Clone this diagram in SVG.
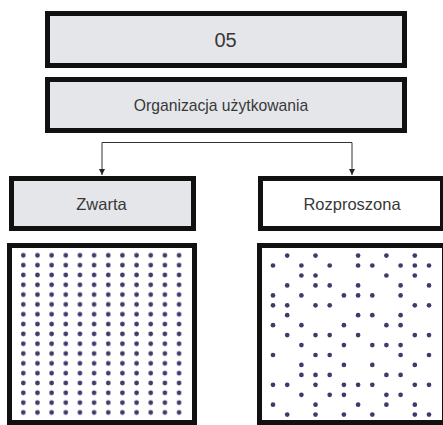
<svg xmlns="http://www.w3.org/2000/svg" width="443" height="425" viewBox="0 0 443 425">
<style>
.box{stroke:#111;stroke-width:5}
.gray{fill:#e5e6ea}
.white{fill:#fff}
.lbl{font-family:"Liberation Sans",Arial,sans-serif;fill:#383838;text-anchor:middle}
.dot{fill:#3e3a6c}
.conn{fill:none;stroke:#333;stroke-width:1}
</style>
<defs>
<marker id="arr" viewBox="0 0 6 6" refX="6" refY="3" markerWidth="6" markerHeight="6" markerUnits="userSpaceOnUse" orient="auto">
<path d="M0,0 L6,3 L0,6 z" fill="#222"/>
</marker>
<pattern id="grid" patternUnits="userSpaceOnUse" x="16.22" y="250.45" width="14.16" height="9.82">
<circle cx="7.08" cy="4.91" r="2.35" class="dot"/>
</pattern>
</defs>
<rect width="443" height="425" fill="#fff"/>
<g id="node-05">
<rect class="box gray" x="47.5" y="13.5" width="357" height="52"/>
<text class="lbl" x="225.5" y="46.5" font-size="20">05</text>
</g>
<g id="node-organizacja">
<rect class="box gray" x="47.5" y="79.5" width="357" height="51"/>
<text class="lbl" x="221" y="110.5" font-size="15.7">Organizacja użytkowania</text>
</g>
<g id="connectors">
<path class="conn" d="M227,142.5 H102 V175" marker-end="url(#arr)"/>
<path class="conn" d="M227,142.5 H352 V175" marker-end="url(#arr)"/>
</g>
<g id="node-zwarta">
<rect class="box gray" x="11.5" y="178.5" width="182" height="50"/>
<text class="lbl" x="101.5" y="210" font-size="16.5">Zwarta</text>
</g>
<g id="node-rozproszona">
<rect class="box white" x="260.5" y="178.5" width="182" height="50"/>
<text class="lbl" x="352" y="210" font-size="16.5">Rozproszona</text>
</g>
<g id="node-zwarta-pattern">
<rect class="box white" x="9.5" y="245.5" width="185" height="177"/>
<rect x="16.22" y="250.45" width="169.92" height="166.94" fill="url(#grid)"/>
</g>
<g id="node-rozproszona-pattern">
<rect class="box white" x="259.5" y="245.5" width="185" height="177"/>
<g class="dot">
<circle cx="287.2" cy="255.6" r="2.35"/><circle cx="315.5" cy="255.6" r="2.35"/><circle cx="358.1" cy="255.6" r="2.35"/><circle cx="386.4" cy="255.6" r="2.35"/><circle cx="414.8" cy="255.6" r="2.35"/>
<circle cx="273" cy="265.5" r="2.35"/><circle cx="301.4" cy="265.5" r="2.35"/><circle cx="329.7" cy="265.5" r="2.35"/><circle cx="358.1" cy="265.5" r="2.35"/><circle cx="372.3" cy="265.5" r="2.35"/><circle cx="400.6" cy="265.5" r="2.35"/><circle cx="414.8" cy="265.5" r="2.35"/><circle cx="429" cy="265.5" r="2.35"/>
<circle cx="301.4" cy="275.5" r="2.35"/><circle cx="315.5" cy="275.5" r="2.35"/><circle cx="386.4" cy="275.5" r="2.35"/><circle cx="414.8" cy="275.5" r="2.35"/>
<circle cx="287.2" cy="285.4" r="2.35"/><circle cx="315.5" cy="285.4" r="2.35"/><circle cx="329.7" cy="285.4" r="2.35"/><circle cx="358.1" cy="285.4" r="2.35"/><circle cx="400.6" cy="285.4" r="2.35"/><circle cx="429" cy="285.4" r="2.35"/>
<circle cx="273" cy="295.4" r="2.35"/><circle cx="301.4" cy="295.4" r="2.35"/><circle cx="343.9" cy="295.4" r="2.35"/><circle cx="358.1" cy="295.4" r="2.35"/><circle cx="372.3" cy="295.4" r="2.35"/><circle cx="400.6" cy="295.4" r="2.35"/>
<circle cx="273" cy="305.3" r="2.35"/><circle cx="287.2" cy="305.3" r="2.35"/><circle cx="315.5" cy="305.3" r="2.35"/><circle cx="329.7" cy="305.3" r="2.35"/><circle cx="414.8" cy="305.3" r="2.35"/><circle cx="429" cy="305.3" r="2.35"/>
<circle cx="287.2" cy="315.2" r="2.35"/><circle cx="358.1" cy="315.2" r="2.35"/><circle cx="372.3" cy="315.2" r="2.35"/><circle cx="400.6" cy="315.2" r="2.35"/>
<circle cx="273" cy="325.2" r="2.35"/><circle cx="301.4" cy="325.2" r="2.35"/><circle cx="343.9" cy="325.2" r="2.35"/><circle cx="386.4" cy="325.2" r="2.35"/><circle cx="400.6" cy="325.2" r="2.35"/>
<circle cx="287.2" cy="335.1" r="2.35"/><circle cx="315.5" cy="335.1" r="2.35"/><circle cx="329.7" cy="335.1" r="2.35"/><circle cx="358.1" cy="335.1" r="2.35"/><circle cx="414.8" cy="335.1" r="2.35"/><circle cx="429" cy="335.1" r="2.35"/>
<circle cx="301.4" cy="345.1" r="2.35"/><circle cx="343.9" cy="345.1" r="2.35"/><circle cx="372.3" cy="345.1" r="2.35"/><circle cx="386.4" cy="345.1" r="2.35"/><circle cx="400.6" cy="345.1" r="2.35"/>
<circle cx="273" cy="355" r="2.35"/><circle cx="315.5" cy="355" r="2.35"/><circle cx="329.7" cy="355" r="2.35"/><circle cx="400.6" cy="355" r="2.35"/><circle cx="429" cy="355" r="2.35"/>
<circle cx="301.4" cy="364.9" r="2.35"/><circle cx="343.9" cy="364.9" r="2.35"/><circle cx="372.3" cy="364.9" r="2.35"/><circle cx="414.8" cy="364.9" r="2.35"/>
<circle cx="301.4" cy="374.9" r="2.35"/><circle cx="315.5" cy="374.9" r="2.35"/><circle cx="329.7" cy="374.9" r="2.35"/><circle cx="386.4" cy="374.9" r="2.35"/><circle cx="400.6" cy="374.9" r="2.35"/>
<circle cx="273" cy="384.8" r="2.35"/><circle cx="287.2" cy="384.8" r="2.35"/><circle cx="315.5" cy="384.8" r="2.35"/><circle cx="343.9" cy="384.8" r="2.35"/><circle cx="358.1" cy="384.8" r="2.35"/><circle cx="372.3" cy="384.8" r="2.35"/><circle cx="414.8" cy="384.8" r="2.35"/><circle cx="429" cy="384.8" r="2.35"/>
<circle cx="301.4" cy="394.8" r="2.35"/><circle cx="329.7" cy="394.8" r="2.35"/><circle cx="343.9" cy="394.8" r="2.35"/><circle cx="386.4" cy="394.8" r="2.35"/><circle cx="400.6" cy="394.8" r="2.35"/>
<circle cx="273" cy="404.7" r="2.35"/><circle cx="315.5" cy="404.7" r="2.35"/><circle cx="358.1" cy="404.7" r="2.35"/><circle cx="386.4" cy="404.7" r="2.35"/><circle cx="414.8" cy="404.7" r="2.35"/>
<circle cx="287.2" cy="414.6" r="2.35"/><circle cx="315.5" cy="414.6" r="2.35"/><circle cx="343.9" cy="414.6" r="2.35"/><circle cx="372.3" cy="414.6" r="2.35"/><circle cx="414.8" cy="414.6" r="2.35"/><circle cx="429" cy="414.6" r="2.35"/>
</g>
</g>
</svg>
